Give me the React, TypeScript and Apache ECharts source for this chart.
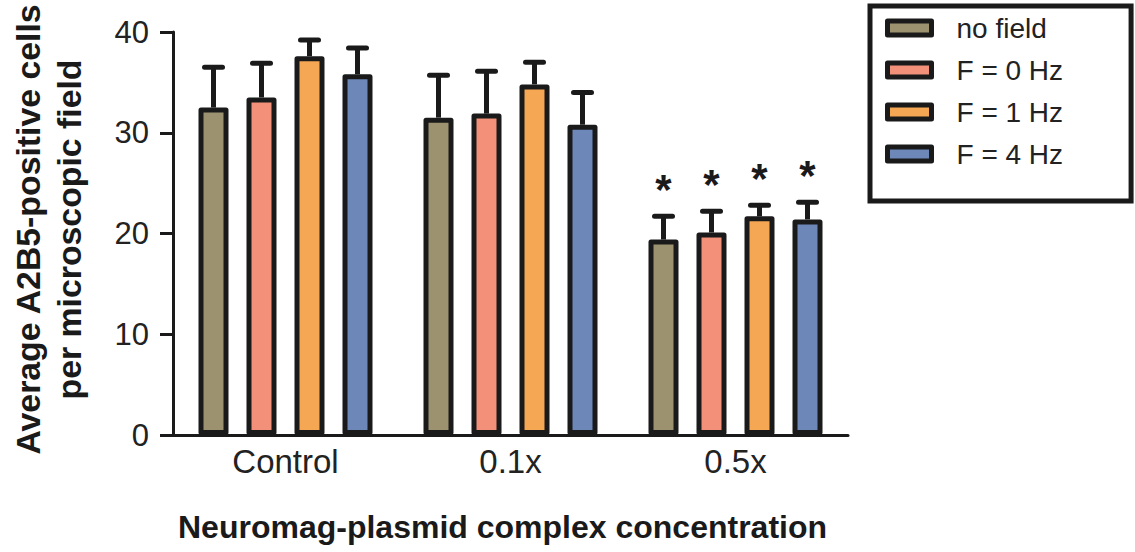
import React, { useEffect, useRef } from "react";
import * as echarts from "echarts";

const categories = ["Control", "0.1x", "0.5x"];
const seriesNames = ["no field", "F = 0 Hz", "F = 1 Hz", "F = 4 Hz"];
const noFieldMean = [32.5, 31.5, 19.4];
const f0Mean = [33.5, 31.9, 20.1];
const f1Mean = [37.6, 34.8, 21.7];
const f4Mean = [35.8, 30.8, 21.4];
const noFieldSem = [4.0, 4.2, 2.3];
const f0Sem = [3.4, 4.2, 2.1];
const f1Sem = [1.6, 2.2, 1.1];
const f4Sem = [2.6, 3.2, 1.7];
const significance = ["", "", "*"];
const yTicks = [0, 10, 20, 30, 40];

const means = [noFieldMean, f0Mean, f1Mean, f4Mean];
const sems = [noFieldSem, f0Sem, f1Sem, f4Sem];
const colors = ["#9c9270", "#f39079", "#f6a754", "#6d87b9"];
const INK = "#1a1a1a";
const FONT = '"Liberation Sans", Arial, sans-serif';
const BAR_W = 30;
const BAR_STEP = 48;

export default function App() {
  const ref = useRef<HTMLDivElement>(null);
  useEffect(() => {
    if (!ref.current) return;
    const chart = echarts.init(ref.current, undefined, { renderer: "svg" });
    const barSeries = seriesNames.map((name, i) => ({
      type: "bar",
      name,
      data: means[i],
      barWidth: BAR_W,
      barGap: ((BAR_STEP - BAR_W) / BAR_W) * 100 + "%",
      itemStyle: {
        color: colors[i],
        borderColor: INK,
        borderWidth: 5,
        borderJoin: "round",
      },
      z: 2,
    }));
    const errSeries = seriesNames.map((name, i) => ({
      type: "custom",
      z: 3,
      silent: true,
      data: categories.map((c, j) => [j, means[i][j], means[i][j] + sems[i][j]]),
      encode: { x: 0, y: [1, 2] },
      renderItem: (params: any, api: any) => {
        const j = api.value(0);
        const base = api.coord([j, api.value(1)]);
        const hi = api.coord([j, api.value(2)]);
        const x = base[0] + (i - 1.5) * BAR_STEP;
        const children: any[] = [
          {
            type: "line",
            shape: { x1: x, y1: base[1], x2: x, y2: hi[1] },
            style: { stroke: INK, lineWidth: 5 },
          },
          {
            type: "line",
            shape: { x1: x - 9, y1: hi[1], x2: x + 9, y2: hi[1] },
            style: { stroke: INK, lineWidth: 5, lineCap: "round" },
          },
        ];
        const sig = significance[params.dataIndex];
        if (sig) {
          children.push({
            type: "text",
            x,
            y: hi[1] - 27,
            style: {
              text: sig,
              align: "center",
              verticalAlign: "middle",
              fontSize: 42,
              fontWeight: "bold",
              fontFamily: FONT,
              fill: INK,
            },
          });
        }
        return { type: "group", children };
      },
    }));
    chart.setOption({
      animation: false,
      textStyle: { fontFamily: FONT },
      grid: { left: 173, right: 287, top: 32, bottom: 117, outerBoundsMode: "none", containLabel: false },
      legend: {
        data: seriesNames,
        orient: "vertical",
        left: 870,
        top: 6,
        icon: "rect",
        itemWidth: 44,
        itemHeight: 14,
        itemGap: 14,
        padding: [8, 68, 33, 15],
        borderColor: INK,
        borderWidth: 5,
        backgroundColor: "#fff",
        itemStyle: { borderColor: INK, borderWidth: 5 },
        formatter: (n: string) => `{t|${n}}`,
        textStyle: {
          fontSize: 28,
          color: "#222",
          fontFamily: FONT,
          rich: { t: { fontSize: 28, color: "#222", fontFamily: FONT, padding: [0, 0, 0, 20] } },
        },
      },
      xAxis: {
        type: "category",
        data: categories,
        name: "Neuromag-plasmid complex concentration",
        nameLocation: "middle",
        nameGap: 76,
        nameTextStyle: {
          fontSize: 32,
          fontWeight: "bold",
          color: INK,
          fontFamily: FONT,
          padding: [0, 16, 0, 0],
        },
        axisLine: { lineStyle: { color: INK, width: 3 } },
        axisTick: { alignWithLabel: true, length: 11, lineStyle: { color: INK, width: 3 } },
        axisLabel: { fontSize: 33, color: "#222", margin: 10, fontFamily: FONT },
      },
      yAxis: {
        type: "value",
        min: yTicks[0],
        max: yTicks[yTicks.length - 1],
        interval: yTicks[1] - yTicks[0],
        name: "Average A2B5-positive cells\nper microscopic field",
        nameLocation: "middle",
        nameRotate: 90,
        nameGap: 84,
        nameTextStyle: {
          fontSize: 33.8,
          fontWeight: "bold",
          color: INK,
          lineHeight: 41,
          fontFamily: FONT,
          padding: [0, 0, 0, 8],
        },
        axisLine: { show: true, lineStyle: { color: INK, width: 3 } },
        axisTick: { show: true, length: 13, lineStyle: { color: INK, width: 3 } },
        axisLabel: { fontSize: 31, color: "#222", margin: 24, fontFamily: FONT },
        splitLine: { show: false },
      },
      series: [...barSeries, ...errSeries],
    });
    return () => chart.dispose();
  }, []);
  return (
    <div
      ref={ref}
      style={{ position: "fixed", left: 0, top: 0, width: 1135, height: 552, background: "#fff" }}
    />
  );
}
